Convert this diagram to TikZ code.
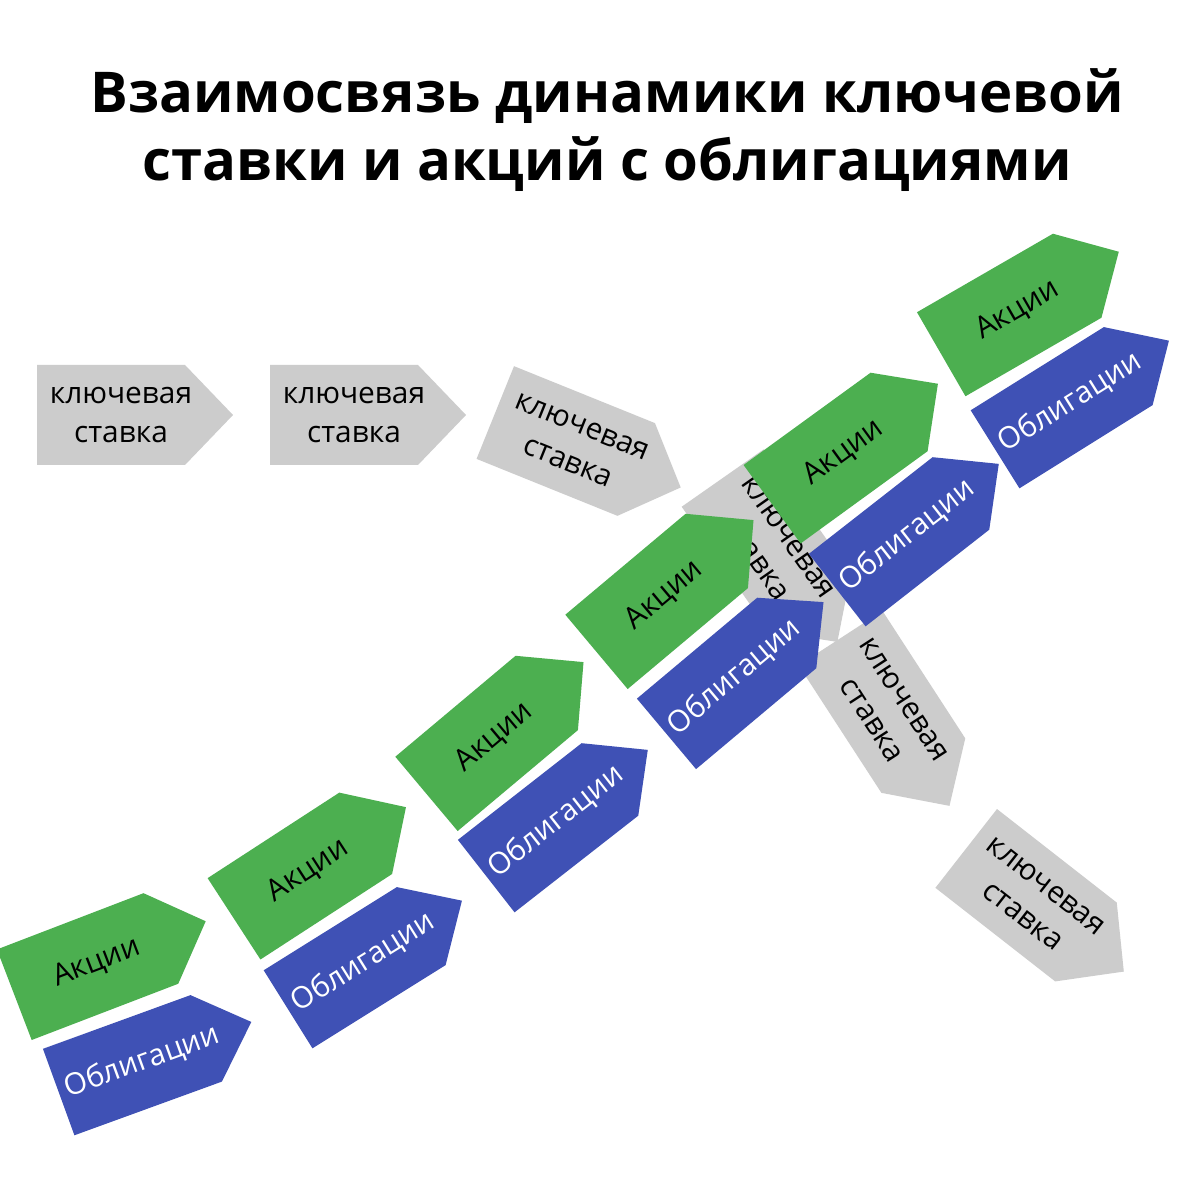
\documentclass[tikz,border=0pt]{standalone}
\usepackage{fontspec}
\setmainfont{Open Sans}
\definecolor{kgray}{HTML}{CCCCCC}
\definecolor{kgreen}{HTML}{4CAF50}
\definecolor{kblue}{HTML}{3F51B5}
\tikzset{lbl/.style={align=center,font=\fontsize{17}{22}\selectfont,inner sep=0pt}}
% #1 name, #2 cx, #3 cy, #4 rot, #5 fill, #6 text colour, #7 text, #8 w, #9 h
\newcommand\abox[9]{%
  \begin{scope}[shift={(#2,#3)},rotate=#4]
    \fill[#5] (-#8/2,-#9/2) -- (#8/2-48,-#9/2) -- (#8/2,0) -- (#8/2-48,#9/2) -- (-#8/2,#9/2) -- cycle;
    \node[lbl,text=#6,rotate=#4] (#1) at (-14,0) {#7};
  \end{scope}}
\begin{document}
\begin{tikzpicture}[x=0.02cm,y=0.02cm]
\useasboundingbox[fill=white] (0,0) rectangle (1200,1200);
\node[align=center,font=\bfseries\fontsize{32}{39}\selectfont] (title) at (607,1070) {Взаимосвязь динамики ключевой\\ставки и акций с облигациями};
\abox{k1}{135}{785}{0}{kgray}{black}{ключевая\\ставка}{196}{100}
\abox{k2}{368}{785}{0}{kgray}{black}{ключевая\\ставка}{196}{100}
\abox{k3}{588}{750}{-22}{kgray}{black}{ключевая\\ставка}{200}{100}
\abox{k4}{780}{640}{-55}{kgray}{black}{ключевая\\ставка}{200}{100}
\abox{k5}{895}{478}{-57}{kgray}{black}{ключевая\\ставка}{200}{100}
\abox{k6}{1045}{290}{-38}{kgray}{black}{ключевая\\ставка}{200}{100}
\abox{a1}{110}{242}{21}{kgreen}{black}{Акции}{205}{97}
\abox{a2}{320}{337}{33}{kgreen}{black}{Акции}{205}{97}
\abox{a3}{505}{472}{40}{kgreen}{black}{Акции}{205}{97}
\abox{a4}{675}{614}{40}{kgreen}{black}{Акции}{205}{97}
\abox{a5}{855}{756}{36}{kgreen}{black}{Акции}{205}{97}
\abox{a6}{1030}{897}{30}{kgreen}{black}{Акции}{205}{97}
\abox{o1}{155}{143}{20}{kblue}{white}{Облигации}{205}{92}
\abox{o2}{375}{245}{32}{kblue}{white}{Облигации}{205}{92}
\abox{o3}{567}{387}{38}{kblue}{white}{Облигации}{205}{92}
\abox{o4}{745}{532}{40}{kblue}{white}{Облигации}{205}{92}
\abox{o5}{918}{673}{38}{kblue}{white}{Облигации}{205}{92}
\abox{o6}{1082}{805}{32}{kblue}{white}{Облигации}{205}{92}
\end{tikzpicture}
\end{document}
